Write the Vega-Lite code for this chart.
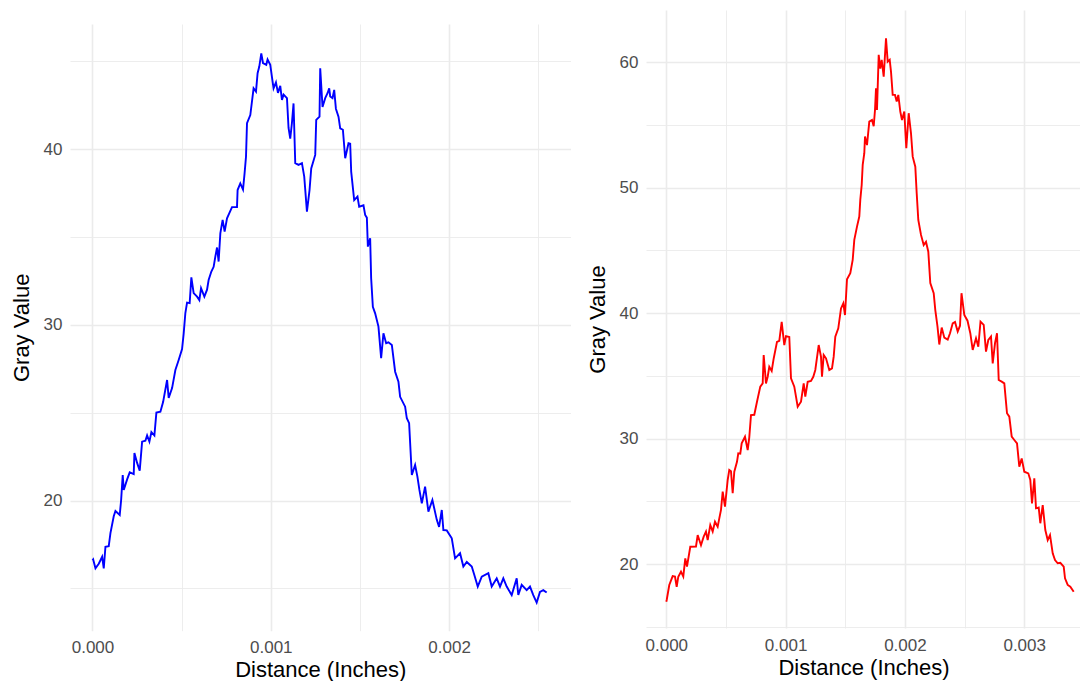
{
  "$schema": "https://vega.github.io/schema/vega-lite/v6.json",
  "background": "white",
  "padding": {"left": 10, "top": 10, "right": 0, "bottom": 0},
  "spacing": 15,
  "datasets": {
    "left": [
      {"d":0,"g":16.6},{"d":0.0000038,"g":16.65},{"d":0.0000168,"g":16.14},{"d":0.0000353,"g":16.4},{"d":0.0000543,"g":16.8},{"d":0.0000633,"g":16.14},{"d":0.0000728,"g":17.37},{"d":0.0000913,"g":17.4},{"d":0.0001008,"g":18.14},{"d":0.0001193,"g":19.1},{"d":0.0001289,"g":19.4},{"d":0.0001529,"g":19.18},{"d":0.0001608,"g":20.03},{"d":0.0001697,"g":21.45},{"d":0.0001754,"g":20.6},{"d":0.0001944,"g":21.2},{"d":0.000209,"g":21.6},{"d":0.0002314,"g":21.5},{"d":0.0002353,"g":22.7},{"d":0.0002504,"g":22.14},{"d":0.000265,"g":21.7},{"d":0.0002784,"g":23.35},{"d":0.0002969,"g":23.4},{"d":0.0003064,"g":23.7},{"d":0.0003193,"g":23.35},{"d":0.0003305,"g":23.9},{"d":0.0003473,"g":23.7},{"d":0.0003585,"g":25.0},{"d":0.000381,"g":25.05},{"d":0.0003961,"g":25.6},{"d":0.0004185,"g":26.86},{"d":0.0004275,"g":25.84},{"d":0.0004465,"g":26.4},{"d":0.000465,"g":27.43},{"d":0.0004835,"g":28.0},{"d":0.0005025,"g":28.62},{"d":0.0005115,"g":29.5},{"d":0.000521,"g":30.67},{"d":0.0005305,"g":31.26},{"d":0.0005451,"g":31.23},{"d":0.0005546,"g":32.7},{"d":0.0005675,"g":31.8},{"d":0.0005866,"g":31.6},{"d":0.0005994,"g":31.4},{"d":0.000609,"g":32.08},{"d":0.0006275,"g":31.6},{"d":0.0006426,"g":32.0},{"d":0.0006515,"g":32.55},{"d":0.0006667,"g":33.03},{"d":0.0006796,"g":33.3},{"d":0.0006891,"g":33.88},{"d":0.0006986,"g":34.4},{"d":0.0007076,"g":33.6},{"d":0.0007171,"g":35.2},{"d":0.00073,"g":35.97},{"d":0.0007412,"g":35.3},{"d":0.0007546,"g":36.06},{"d":0.0007826,"g":36.7},{"d":0.0008106,"g":36.7},{"d":0.000814,"g":37.67},{"d":0.0008291,"g":38.05},{"d":0.0008443,"g":37.7},{"d":0.0008532,"g":38.63},{"d":0.0008611,"g":39.57},{"d":0.0008667,"g":41.47},{"d":0.0008852,"g":41.94},{"d":0.0009036,"g":43.46},{"d":0.0009171,"g":43.27},{"d":0.0009261,"g":44.32},{"d":0.0009356,"g":44.7},{"d":0.0009468,"g":45.45},{"d":0.0009563,"g":44.9},{"d":0.0009748,"g":44.8},{"d":0.0009821,"g":45.1},{"d":0.0009972,"g":44.8},{"d":0.0010067,"g":44.1},{"d":0.0010157,"g":43.46},{"d":0.0010291,"g":43.8},{"d":0.0010403,"g":43.2},{"d":0.0010532,"g":43.6},{"d":0.0010627,"g":42.8},{"d":0.0010717,"g":43.1},{"d":0.0010908,"g":42.9},{"d":0.0010997,"g":41.2},{"d":0.0011092,"g":40.6},{"d":0.0011188,"g":41.5},{"d":0.0011277,"g":42.6},{"d":0.0011373,"g":39.2},{"d":0.0011557,"g":39.1},{"d":0.0011748,"g":39.2},{"d":0.0011877,"g":38.43},{"d":0.0012028,"g":36.44},{"d":0.0012174,"g":37.67},{"d":0.0012269,"g":38.9},{"d":0.0012493,"g":39.67},{"d":0.0012549,"g":41.66},{"d":0.0012734,"g":41.85},{"d":0.0012773,"g":44.6},{"d":0.0012902,"g":42.4},{"d":0.0013053,"g":42.9},{"d":0.0013182,"g":43.18},{"d":0.0013277,"g":43.46},{"d":0.0013333,"g":43.0},{"d":0.0013462,"g":42.9},{"d":0.0013557,"g":43.37},{"d":0.0013653,"g":42.3},{"d":0.0013798,"g":41.85},{"d":0.0013894,"g":41.18},{"d":0.0014045,"g":41.1},{"d":0.0014174,"g":39.48},{"d":0.0014359,"g":40.33},{"d":0.0014454,"g":40.3},{"d":0.001451,"g":38.72},{"d":0.0014678,"g":37.1},{"d":0.0014863,"g":37.3},{"d":0.0014958,"g":36.72},{"d":0.0015199,"g":36.8},{"d":0.0015294,"g":36.25},{"d":0.0015389,"g":36.1},{"d":0.0015445,"g":34.45},{"d":0.0015574,"g":34.93},{"d":0.001563,"g":32.65},{"d":0.0015725,"g":31.03},{"d":0.0015854,"g":30.65},{"d":0.0016039,"g":29.9},{"d":0.001619,"g":28.1},{"d":0.0016319,"g":29.52},{"d":0.0016471,"g":28.95},{"d":0.00166,"g":29.0},{"d":0.001679,"g":28.85},{"d":0.0016975,"g":27.33},{"d":0.001716,"g":26.76},{"d":0.0017255,"g":25.9},{"d":0.0017535,"g":25.34},{"d":0.001763,"g":24.68},{"d":0.0017759,"g":24.4},{"d":0.001791,"g":21.45},{"d":0.0018095,"g":22.02},{"d":0.0018224,"g":21.36},{"d":0.0018336,"g":20.6},{"d":0.0018471,"g":19.84},{"d":0.0018655,"g":20.79},{"d":0.001884,"g":19.37},{"d":0.0019064,"g":20.03},{"d":0.0019311,"g":18.9},{"d":0.001944,"g":18.5},{"d":0.0019591,"g":19.46},{"d":0.0019681,"g":18.32},{"d":0.0019871,"g":18.3},{"d":0.0020151,"g":17.85},{"d":0.0020336,"g":16.71},{"d":0.0020616,"g":17.0},{"d":0.0020801,"g":16.24},{"d":0.0020992,"g":16.5},{"d":0.0021272,"g":16.24},{"d":0.0021417,"g":15.76},{"d":0.0021608,"g":15.1},{"d":0.0021832,"g":15.67},{"d":0.0022202,"g":15.86},{"d":0.0022392,"g":15.1},{"d":0.0022672,"g":15.57},{"d":0.0022857,"g":15.1},{"d":0.0023042,"g":15.57},{"d":0.0023232,"g":15.1},{"d":0.0023513,"g":14.62},{"d":0.0023793,"g":15.57},{"d":0.0023882,"g":14.62},{"d":0.0024073,"g":15.2},{"d":0.0024353,"g":14.9},{"d":0.0024538,"g":15.1},{"d":0.0024723,"g":14.62},{"d":0.0024913,"g":14.19},{"d":0.0025098,"g":14.8},{"d":0.0025283,"g":14.9},{"d":0.0025473,"g":14.76}
    ],
    "right": [
      {"d":0,"g":17.0},{"d":0.0000034,"g":17.13},{"d":0.0000251,"g":18.33},{"d":0.0000536,"g":19.04},{"d":0.0000729,"g":19.0},{"d":0.0000872,"g":18.19},{"d":0.0001006,"g":18.99},{"d":0.0001232,"g":19.39},{"d":0.0001425,"g":19.0},{"d":0.0001593,"g":20.45},{"d":0.0001735,"g":19.79},{"d":0.0002012,"g":21.38},{"d":0.000249,"g":21.4},{"d":0.0002632,"g":22.31},{"d":0.0002909,"g":21.5},{"d":0.0003135,"g":22.18},{"d":0.0003328,"g":22.58},{"d":0.000347,"g":21.91},{"d":0.0003688,"g":23.1},{"d":0.0003889,"g":22.6},{"d":0.0004082,"g":23.37},{"d":0.0004308,"g":22.97},{"d":0.0004443,"g":23.64},{"d":0.0004585,"g":24.31},{"d":0.0004728,"g":25.77},{"d":0.000492,"g":24.57},{"d":0.0005147,"g":26.7},{"d":0.0005281,"g":27.5},{"d":0.0005423,"g":27.4},{"d":0.0005566,"g":25.64},{"d":0.00057,"g":27.36},{"d":0.0005926,"g":28.15},{"d":0.0006035,"g":28.82},{"d":0.0006203,"g":28.8},{"d":0.000632,"g":29.62},{"d":0.0006597,"g":30.15},{"d":0.0006823,"g":29.09},{"d":0.0006957,"g":30.1},{"d":0.00071,"g":31.88},{"d":0.0007376,"g":31.9},{"d":0.0007603,"g":32.94},{"d":0.0007879,"g":34.14},{"d":0.000808,"g":34.4},{"d":0.0008164,"g":36.66},{"d":0.0008357,"g":34.4},{"d":0.0008499,"g":34.93},{"d":0.0008634,"g":35.73},{"d":0.0008835,"g":35.4},{"d":0.0009003,"g":36.39},{"d":0.0009279,"g":37.71},{"d":0.0009472,"g":37.8},{"d":0.0009673,"g":39.31},{"d":0.0009891,"g":37.46},{"d":0.0010034,"g":38.17},{"d":0.001031,"g":38.1},{"d":0.0010453,"g":34.8},{"d":0.0010729,"g":34.14},{"d":0.0010872,"g":33.34},{"d":0.0011014,"g":32.54},{"d":0.0011291,"g":32.94},{"d":0.0011517,"g":34.4},{"d":0.0011651,"g":33.34},{"d":0.0011853,"g":34.53},{"d":0.0012129,"g":34.6},{"d":0.0012322,"g":34.93},{"d":0.001249,"g":35.47},{"d":0.0012775,"g":37.46},{"d":0.0012967,"g":36.53},{"d":0.0013051,"g":34.93},{"d":0.0013194,"g":36.66},{"d":0.0013387,"g":36.4},{"d":0.0013663,"g":35.47},{"d":0.001389,"g":35.6},{"d":0.0014032,"g":36.53},{"d":0.0014166,"g":38.12},{"d":0.0014417,"g":38.79},{"d":0.0014644,"g":40.38},{"d":0.0014837,"g":40.78},{"d":0.0014979,"g":39.85},{"d":0.0015147,"g":42.7},{"d":0.0015423,"g":43.18},{"d":0.0015624,"g":44.24},{"d":0.0015759,"g":45.84},{"d":0.0015985,"g":46.9},{"d":0.0016178,"g":47.7},{"d":0.0016261,"g":49.03},{"d":0.0016379,"g":50.22},{"d":0.0016463,"g":51.82},{"d":0.0016597,"g":52.75},{"d":0.0016656,"g":54.08},{"d":0.0016823,"g":53.4},{"d":0.0017016,"g":55.27},{"d":0.0017242,"g":55.4},{"d":0.0017385,"g":54.9},{"d":0.0017494,"g":56.2},{"d":0.0017578,"g":57.93},{"d":0.0017661,"g":56.2},{"d":0.0017804,"g":60.6},{"d":0.0017938,"g":59.5},{"d":0.0018055,"g":60.2},{"d":0.0018223,"g":58.86},{"d":0.0018416,"g":61.92},{"d":0.0018558,"g":60.05},{"d":0.0018726,"g":60.2},{"d":0.0018835,"g":59.26},{"d":0.0018977,"g":57.4},{"d":0.001917,"g":57.4},{"d":0.0019313,"g":56.87},{"d":0.0019447,"g":57.4},{"d":0.0019614,"g":56.07},{"d":0.0019757,"g":55.4},{"d":0.001995,"g":56.07},{"d":0.0020117,"g":53.15},{"d":0.0020318,"g":55.94},{"d":0.0020511,"g":54.34},{"d":0.0020654,"g":52.48},{"d":0.0020872,"g":51.68},{"d":0.0020989,"g":49.56},{"d":0.0021123,"g":47.43},{"d":0.002135,"g":46.24},{"d":0.0021576,"g":45.44},{"d":0.0021769,"g":45.7},{"d":0.0021962,"g":44.9},{"d":0.0022129,"g":42.4},{"d":0.0022414,"g":41.59},{"d":0.0022548,"g":40.25},{"d":0.0022733,"g":38.92},{"d":0.0022883,"g":37.5},{"d":0.0023085,"g":38.85},{"d":0.0023303,"g":38.05},{"d":0.0023588,"g":37.9},{"d":0.0023781,"g":38.4},{"d":0.0024007,"g":39.19},{"d":0.00242,"g":39.3},{"d":0.0024426,"g":38.53},{"d":0.0024619,"g":39.0},{"d":0.0024744,"g":41.59},{"d":0.0024979,"g":39.86},{"d":0.0025247,"g":39.4},{"d":0.0025482,"g":38.4},{"d":0.0025683,"g":37.07},{"d":0.002596,"g":38.0},{"d":0.0026153,"g":37.33},{"d":0.0026337,"g":39.32},{"d":0.0026605,"g":39.06},{"d":0.0026798,"g":36.93},{"d":0.0026991,"g":37.86},{"d":0.0027217,"g":38.13},{"d":0.002736,"g":36.0},{"d":0.0027552,"g":37.6},{"d":0.002772,"g":38.4},{"d":0.0027863,"g":34.67},{"d":0.0028114,"g":34.54},{"d":0.0028332,"g":34.4},{"d":0.0028558,"g":32.02},{"d":0.0028751,"g":31.75},{"d":0.0028952,"g":30.15},{"d":0.002917,"g":29.89},{"d":0.0029397,"g":29.62},{"d":0.0029589,"g":27.76},{"d":0.002979,"g":28.42},{"d":0.0030008,"g":27.36},{"d":0.0030344,"g":27.23},{"d":0.0030511,"g":26.7},{"d":0.0030654,"g":24.84},{"d":0.0030847,"g":26.83},{"d":0.0030989,"g":24.44},{"d":0.0031215,"g":24.5},{"d":0.003135,"g":23.25},{"d":0.0031551,"g":24.7},{"d":0.0031769,"g":22.71},{"d":0.003197,"g":21.91},{"d":0.0032163,"g":22.31},{"d":0.0032389,"g":20.85},{"d":0.0032582,"g":20.32},{"d":0.0032808,"g":20.06},{"d":0.0033026,"g":20.1},{"d":0.0033311,"g":19.79},{"d":0.003342,"g":18.86},{"d":0.0033646,"g":18.33},{"d":0.0033864,"g":18.19},{"d":0.0034149,"g":17.79}
    ]
  },
  "hconcat": [
    {
      "spacing": 0,
      "vconcat": [
        {"width": 500.5, "height": 14, "data": {"values": []}, "mark": "point", "encoding": {}},
        {
          "width": 500.5,
          "height": 606.7,
          "data": {"name": "left"},
          "mark": {"type": "line", "color": "#0000FF", "strokeWidth": 1.9, "clip": true},
          "encoding": {
            "x": {
              "field": "d", "type": "quantitative",
              "scale": {"domain": [-0.000126, 0.002681], "nice": false, "zero": false},
              "axis": {
                "title": "Distance (Inches)",
                "values": [0, 0.0005, 0.001, 0.0015, 0.002, 0.0025],
                "labelExpr": "abs(datum.value*1000 - round(datum.value*1000)) < 1e-6 ? format(datum.value, '.3f') : ''",
                "gridWidth": {"condition": {"test": "abs(datum.value*1000 - round(datum.value*1000)) < 1e-6", "value": 1.6}, "value": 0.9}
              }
            },
            "y": {
              "field": "g", "type": "quantitative",
              "scale": {"domain": [12.59, 47.12], "nice": false, "zero": false},
              "axis": {
                "title": "Gray Value",
                "values": [15, 20, 25, 30, 35, 40, 45],
                "labelExpr": "datum.value % 10 === 0 ? datum.label : ''",
                "gridWidth": {"condition": {"test": "datum.value % 10 === 0", "value": 1.6}, "value": 0.9}
              }
            }
          }
        }
      ]
    },
    {
      "width": 435,
      "height": 618,
      "data": {"name": "right"},
      "mark": {"type": "line", "color": "#FF0000", "strokeWidth": 1.9, "clip": true},
      "encoding": {
        "x": {
          "field": "d", "type": "quantitative",
          "scale": {"domain": [-0.00017, 0.003476], "nice": false, "zero": false},
          "axis": {
            "title": "Distance (Inches)",
            "values": [0, 0.0005, 0.001, 0.0015, 0.002, 0.0025, 0.003],
            "labelExpr": "abs(datum.value*1000 - round(datum.value*1000)) < 1e-6 ? format(datum.value, '.3f') : ''",
            "gridWidth": {"condition": {"test": "abs(datum.value*1000 - round(datum.value*1000)) < 1e-6", "value": 1.6}, "value": 0.9}
          }
        },
        "y": {
          "field": "g", "type": "quantitative",
          "scale": {"domain": [14.9, 64.17], "nice": false, "zero": false},
          "axis": {
            "title": "Gray Value",
            "values": [15, 20, 25, 30, 35, 40, 45, 50, 55, 60],
            "labelExpr": "datum.value % 10 === 0 ? datum.label : ''",
            "gridWidth": {"condition": {"test": "datum.value % 10 === 0", "value": 1.6}, "value": 0.9}
          }
        }
      }
    }
  ],
  "config": {
    "view": {"stroke": null},
    "axis": {
      "domain": false,
      "ticks": false,
      "grid": true,
      "gridColor": "#EBEBEB",
      "labelFont": "Liberation Sans",
      "labelFontSize": 17,
      "labelColor": "#4D4D4D",
      "titleFont": "Liberation Sans",
      "titleFontSize": 22,
      "titleFontWeight": "normal",
      "titleColor": "#000000"
    },
    "axisX": {"labelPadding": 9, "titlePadding": 4},
    "axisY": {"labelPadding": 8, "titlePadding": 10}
  }
}
